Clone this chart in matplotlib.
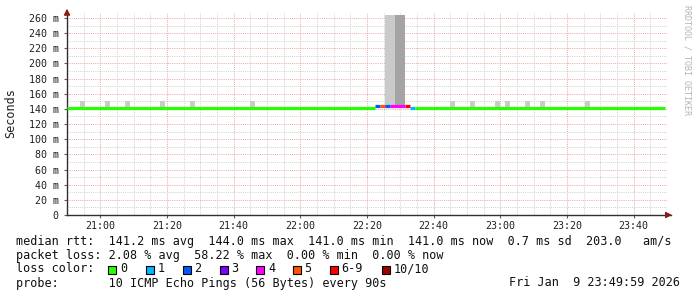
import matplotlib
matplotlib.use("Agg")
import matplotlib.pyplot as plt
from matplotlib.patches import Rectangle

# ---------------- data ----------------
# time axis: minutes after 20:50
xtick_pos = [10, 30, 50, 70, 90, 110, 130, 150, 170]
xtick_labels = ["21:00", "21:20", "21:40", "22:00", "22:20", "22:40", "23:00", "23:20", "23:40"]
ytick_vals = [0, 20, 40, 60, 80, 100, 120, 140, 160, 180, 200, 220, 240, 260]

# median rtt segments (start, end in minutes after 20:50), value in ms, loss colour index
seg_start = [0.0, 92.4, 93.9, 95.4, 96.9, 101.4, 102.9, 104.4]
seg_end = [92.4, 93.9, 95.4, 96.9, 101.4, 102.9, 104.4, 179.4]
seg_median = [141.0, 143.2, 143.2, 143.2, 143.2, 143.2, 141.0, 141.0]
seg_loss = [0, 2, 5, 2, 4, 6, 1, 0]

# smoke (ping spread) bars: start minute, low ms, high ms, shade
smoke_start = [3.9, 11.4, 17.4, 27.9, 36.9, 54.9, 95.4, 96.9, 98.4, 99.9,
               114.9, 120.9, 128.4, 131.4, 137.4, 141.9, 155.4]
smoke_low = [141.0] * 17
smoke_high = [150.5, 150.5, 150.5, 150.5, 150.5, 150.5, 264.0, 264.0, 264.0, 264.0,
              150.5, 150.5, 150.5, 150.5, 150.5, 150.5, 150.5]
smoke_dark = [0, 0, 0, 0, 0, 0, 0, 0, 1, 1, 0, 0, 0, 0, 0, 0, 0]
step_min = 1.5

loss_names = ["0", "1", "2", "3", "4", "5", "6-9", "10/10"]
loss_colors = ["#26ff00", "#00b8ff", "#0059ff", "#7e00ff", "#ff00ff", "#ff5500", "#ff0000", "#a10000"]

legend_line1 = "median rtt:  141.2 ms avg  144.0 ms max  141.0 ms min  141.0 ms now  0.7 ms sd  203.0   am/s"
legend_line2 = "packet loss: 2.08 % avg  58.22 % max  0.00 % min  0.00 % now"
legend_line3 = "loss color:"
legend_line4 = "probe:       10 ICMP Echo Pings (56 Bytes) every 90s"
date_text = "Fri Jan  9 23:49:59 2026"

# ---------------- layout ----------------
W, H = 697, 297
fig = plt.figure(figsize=(W / 100, H / 100), dpi=100)
fig.patch.set_facecolor("white")
MONO = "DejaVu Sans Mono"

ax_l, ax_r, ax_b, ax_t = 67, 667, 215, 13
ax = fig.add_axes([ax_l / W, 1 - ax_b / H, (ax_r - ax_l) / W, (ax_b - ax_t) / H])
ax.set_xlim(0, 180)
ax.set_ylim(0, (ax_b - ax_t) / 0.7577)
ax.set_facecolor("white")

# grid
minor_c = "#cfcfcf"
major_c = "#eaa6a6"
dot = (0, (1, 1.2))
for v in range(10, 270, 20):
    ax.axhline(v, color=minor_c, lw=0.7, ls=dot, zorder=0)
for v in range(20, 270, 20):
    ax.axhline(v, color=major_c, lw=0.7, ls=dot, zorder=0.5)
for m in range(5, 180, 5):
    if (m - 10) % 20 == 0:
        continue
    ax.axvline(m, color=minor_c, lw=0.7, ls=dot, zorder=0)
for m in xtick_pos:
    ax.axvline(m, color=major_c, lw=0.7, ls=dot, zorder=0.5)

# smoke
for s, lo, hi, d in zip(smoke_start, smoke_low, smoke_high, smoke_dark):
    ax.add_patch(Rectangle((s, lo), step_min, hi - lo,
                           facecolor="#a4a4a4" if d else "#cacaca", edgecolor="none", zorder=2))

# median line
for s, e, v, li in zip(seg_start, seg_end, seg_median, seg_loss):
    ax.plot([s, e], [v, v], color=loss_colors[li], lw=2.3, solid_capstyle="butt", zorder=3)

# axes styling
for sp in ["top", "right"]:
    ax.spines[sp].set_visible(False)
for sp in ["left", "bottom"]:
    ax.spines[sp].set_color("#303030")
    ax.spines[sp].set_linewidth(1.0)
ax.set_xticks(xtick_pos)
ax.set_xticklabels(xtick_labels, fontfamily=MONO, fontsize=7.2)
ax.set_yticks(ytick_vals)
ax.set_yticklabels([("%d m" % v) if v else "0" for v in ytick_vals], fontfamily=MONO, fontsize=7.2)
ax.tick_params(axis="both", length=2, width=0.8, color="#606060", labelcolor="#202020")
ax.tick_params(axis="x", pad=2.5)
ax.tick_params(axis="y", pad=4)

# arrows
ax.annotate("", xy=(0, 1.035), xytext=(0, 0.99), xycoords="axes fraction",
            arrowprops=dict(arrowstyle="-|>,head_length=0.35,head_width=0.18", color="#8b1a1a", lw=1),
            annotation_clip=False)
ax.annotate("", xy=(1.013, 0), xytext=(0.995, 0), xycoords="axes fraction",
            arrowprops=dict(arrowstyle="-|>,head_length=0.35,head_width=0.18", color="#8b1a1a", lw=1),
            annotation_clip=False)
ax.plot([1.0, 1.006], [0, 0], transform=ax.transAxes, color="#303030", lw=1.0, clip_on=False)

# y label and watermark
fig.text(11 / W, 1 - 113 / H, "Seconds", rotation=90, fontfamily=MONO, fontsize=8.5,
         ha="center", va="center", color="#202020")
fig.text(687 / W, 1 - 5 / H, "RRDTOOL / TOBI OETIKER", rotation=270, fontfamily=MONO, fontsize=6,
         ha="center", va="top", color="#b4b4b4")

# legend
fs = 8.5
cw = 0.602 * fs * 100 / 72
x0 = 16
def ftext(x, y, s, **kw):
    fig.text(x / W, 1 - y / H, s, fontfamily=MONO, fontsize=fs, va="center", ha="left",
             color="#101010", **kw)

ftext(x0, 241, legend_line1)
ftext(x0, 255, legend_line2)
ftext(x0, 269, legend_line3)
ftext(x0, 283, legend_line4)
fig.text(680 / W, 1 - 283 / H, date_text, fontfamily=MONO, fontsize=fs, va="center", ha="right",
         color="#101010")

box_x = [108, 145.5, 182.5, 219.5, 256, 292.5, 329.5, 381.5]
for bx, name, col in zip(box_x, loss_names, loss_colors):
    fig.patches.append(Rectangle((bx / W, 1 - 273.5 / H), 8 / W, 8 / H, transform=fig.transFigure,
                                 facecolor=col, edgecolor="black", lw=0.8))
    ftext(bx + 12, 269, name)

fig.savefig("out.png", dpi=100, facecolor="white")
